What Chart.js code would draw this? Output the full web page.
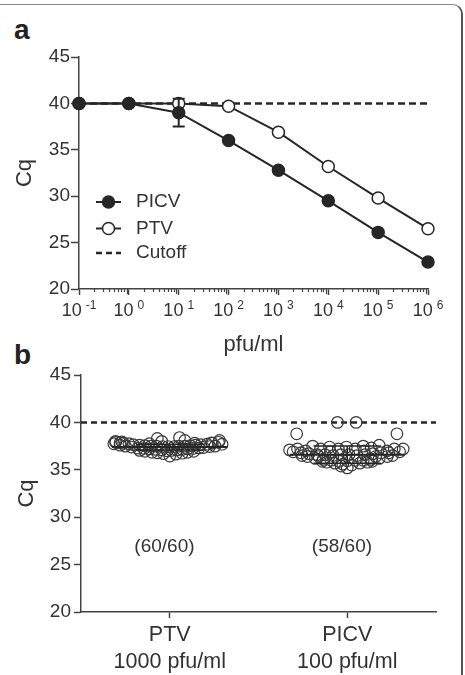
<!DOCTYPE html>
<html>
<head>
<meta charset="utf-8">
<script src="https://cdn.jsdelivr.net/npm/chart.js@4.4.1/dist/chart.umd.min.js"></script>
<style>
  body { margin: 0; background: #fff; }
  #wrap { position: relative; width: 465px; height: 675px; overflow: hidden; font-family: "Liberation Sans", Arial, sans-serif; }
  .frame { position: absolute; left: -10px; top: 4px; width: 473px; height: 720px; box-sizing: border-box;
           border-top: 1.5px solid #8a8a8a; border-right: 2px solid #555; border-top-right-radius: 10px; }
  .letter { position: absolute; font-weight: bold; font-size: 28px; line-height: 28px; color: #222; }
  canvas { position: absolute; left: 0; }
</style>
</head>
<body>
<div id="wrap">
  <div class="frame"></div>
  <div class="letter" style="left:14px; top:16px;">a</div>
  <div class="letter" style="left:14px; top:341px;">b</div>
  <canvas id="chartA" width="465" height="360" style="top:0px;"></canvas>
  <canvas id="chartB" width="465" height="335" style="top:340px;"></canvas>
</div>

<script>
// ---- panel a: dilution series ----
const doses = [0.1, 1, 10, 100, 1000, 10000, 100000, 1000000];
const doseTickBase = '10';
const doseTickExponents = ['-1', '0', '1', '2', '3', '4', '5', '6'];
const picvCq = [40, 40, 39.0, 36.0, 32.8, 29.5, 26.1, 22.9];
const picvSd = [0, 0, 1.5, 0, 0, 0, 0, 0];
const ptvCq = [40, 40, 40.0, 39.7, 36.9, 33.2, 29.8, 26.5];
const cutoffCq = 40;

// ---- panel b: replicate detection ----
const groupNames = ['PTV', 'PICV'];
const groupDoses = ['1000 pfu/ml', '100 pfu/ml'];
const groupDetected = ['(60/60)', '(58/60)'];
const groupMeans = [37.4, 36.6];
const groupSds = [0.3, 0.9];

const ptvJitter = [-0.61, -0.56, -0.52, -0.46, -0.41, -0.34, -0.28, -0.21, -0.15, -0.08,
                   -0.02, 0.05, 0.10, 0.17, 0.23, 0.29, 0.35, 0.42, 0.48, 0.55,
                   -0.56, -0.50, -0.43, -0.36, -0.29, -0.23, -0.16, -0.09, -0.03, 0.02,
                   0.08, 0.14, 0.20, 0.26, 0.33, 0.38, 0.45, 0.51, -0.63, 0.59,
                   -0.28, -0.20, -0.14, -0.07, 0.00, 0.07, 0.14, 0.20, 0.27, -0.34,
                   -0.14, -0.09, 0.11, 0.17, -0.61, -0.54, 0.56, 0.47, -0.23, 0.28];
const ptvValues = [37.9, 37.85, 37.8, 37.75, 37.65, 37.6, 37.55, 37.5, 37.5, 37.45,
                   37.45, 37.45, 37.5, 37.5, 37.55, 37.6, 37.65, 37.7, 37.8, 37.9,
                   37.6, 37.5, 37.4, 37.3, 37.25, 37.2, 37.15, 37.1, 37.0, 37.05,
                   37.1, 37.15, 37.2, 37.25, 37.3, 37.35, 37.45, 37.5, 37.75, 37.7,
                   36.95, 36.85, 36.8, 36.7, 36.45, 36.65, 36.75, 36.85, 36.95, 37.05,
                   38.3, 38.0, 38.4, 38.1, 38.0, 37.95, 38.1, 37.85, 37.75, 37.8];

const picvJitter = [-0.11, 0.10, -0.57, 0.56,
                    -0.56, -0.39, -0.20, -0.01, 0.18, 0.36, 0.53, -0.47, 0.45, -0.30, 0.27, 0.09, -0.10,
                    -0.61, -0.52, -0.43, -0.34, -0.25, -0.16, -0.07, 0.02, 0.11, 0.20, 0.29, 0.38, 0.47, 0.59, -0.19, 0.19,
                    -0.45, -0.36, -0.27, -0.18, -0.09, 0.00, 0.09, 0.18, 0.27, 0.36, 0.45, -0.32, 0.32,
                    -0.23, -0.14, -0.05, 0.05, 0.14, 0.23, -0.28, 0.28,
                    0.00, -0.07, -0.65, 0.63, 0.51, -0.51];
const picvValues = [40, 40, 38.8, 38.8,
                    37.2, 37.5, 37.4, 37.4, 37.5, 37.6, 37.2, 37.0, 37.0, 37.2, 37.3, 37.2, 37.2,
                    36.9, 36.8, 36.7, 36.6, 36.6, 36.5, 36.6, 36.6, 36.5, 36.6, 36.7, 36.8, 36.8, 36.9, 36.9, 37.0,
                    36.4, 36.2, 36.1, 36.0, 35.9, 35.95, 36.0, 36.0, 36.1, 36.2, 36.4, 36.4, 36.4,
                    35.8, 35.7, 35.6, 35.5, 35.7, 35.8, 35.9, 35.9,
                    35.2, 35.4, 37.1, 37.2, 36.5, 36.5];

const INK = '#262626';
const TEXT = '#333';
const FONT = '"Liberation Sans", Arial, sans-serif';
Chart.defaults.font.family = FONT;
Chart.defaults.color = TEXT;

// error bar, minor log ticks and 10^n tick labels
const panelAExtras = {
  id: 'panelAExtras',
  afterDatasetsDraw(chart) {
    const {ctx} = chart;
    const xs = chart.scales.x, ys = chart.scales.y;
    ctx.save();
    ctx.strokeStyle = INK;
    ctx.lineWidth = 2;
    picvSd.forEach((sd, i) => {
      if (!sd) return;
      const px = xs.getPixelForValue(doses[i]);
      const top = ys.getPixelForValue(picvCq[i] + sd);
      const bot = ys.getPixelForValue(picvCq[i] - sd);
      ctx.beginPath();
      ctx.moveTo(px, top); ctx.lineTo(px, bot);
      ctx.moveTo(px - 6, top); ctx.lineTo(px + 6, top);
      ctx.moveTo(px - 6, bot); ctx.lineTo(px + 6, bot);
      ctx.stroke();
    });
    ctx.restore();
  },
  afterDraw(chart) {
    const {ctx, chartArea} = chart;
    const xs = chart.scales.x;
    ctx.save();
    ctx.strokeStyle = '#444';
    ctx.lineWidth = 1.2;
    ctx.beginPath();
    for (let d = 0; d < doses.length - 1; d++) {
      for (let m = 2; m <= 9; m++) {
        const px = Math.round(xs.getPixelForValue(doses[d] * m)) + 0.5;
        ctx.moveTo(px, chartArea.bottom);
        ctx.lineTo(px, chartArea.bottom + (m === 9 ? 5 : 3));
      }
    }
    ctx.stroke();

    // tick labels: "10" with a raised exponent
    ctx.fillStyle = TEXT;
    ctx.textBaseline = 'alphabetic';
    ctx.textAlign = 'left';
    const baseFont = '18px ' + FONT, expFont = '12px ' + FONT;
    doses.forEach((d, i) => {
      ctx.font = baseFont;
      const wb = ctx.measureText(doseTickBase).width;
      ctx.font = expFont;
      const we = ctx.measureText(doseTickExponents[i]).width;
      const gap = 4;
      const x0 = xs.getPixelForValue(d) - (wb + gap + we) / 2;
      ctx.font = baseFont;
      ctx.fillText(doseTickBase, x0, chartArea.bottom + 27);
      ctx.font = expFont;
      ctx.fillText(doseTickExponents[i], x0 + wb + gap, chartArea.bottom + 20);
    });
    ctx.restore();
  }
};

const insideLegend = {
  id: 'insideLegend',
  afterDraw(chart) {
    const {ctx, chartArea} = chart;
    const x0 = chartArea.left + 17, x1 = x0 + 25, tx = chartArea.left + 57;
    const rows = [145, 171.5, 196];
    ctx.save();
    ctx.font = '19px ' + FONT;
    ctx.textBaseline = 'middle';
    chart.data.datasets.forEach((ds, i) => {
      const y = chartArea.top + rows[i];
      ctx.strokeStyle = ds.borderColor;
      ctx.lineWidth = ds.borderWidth;
      ctx.setLineDash(ds.borderDash ? [6, 4] : []);
      ctx.beginPath(); ctx.moveTo(x0, y); ctx.lineTo(x1, y); ctx.stroke();
      ctx.setLineDash([]);
      if (ds.pointRadius) {
        ctx.beginPath();
        ctx.arc((x0 + x1) / 2, y, ds.pointRadius, 0, Math.PI * 2);
        ctx.fillStyle = ds.pointBackgroundColor;
        ctx.fill();
        ctx.lineWidth = ds.pointBorderWidth;
        ctx.strokeStyle = ds.pointBorderColor;
        ctx.stroke();
      }
      ctx.fillStyle = TEXT;
      ctx.fillText(ds.label, tx, y);
    });
    ctx.restore();
  }
};

new Chart(document.getElementById('chartA'), {
  type: 'line',
  data: {
    datasets: [
      {
        label: 'PICV',
        data: doses.map((d, i) => ({x: d, y: picvCq[i]})),
        borderColor: INK, borderWidth: 2,
        pointRadius: 6, pointBackgroundColor: INK, pointBorderColor: INK, pointBorderWidth: 1.5,
        clip: false
      },
      {
        label: 'PTV',
        data: doses.map((d, i) => ({x: d, y: ptvCq[i]})),
        borderColor: INK, borderWidth: 2,
        pointRadius: 6, pointBackgroundColor: '#fff', pointBorderColor: INK, pointBorderWidth: 1.5,
        clip: false
      },
      {
        label: 'Cutoff',
        data: [{x: doses[0], y: cutoffCq}, {x: doses[doses.length - 1], y: cutoffCq}],
        borderColor: INK, borderWidth: 2.5, borderDash: [7, 4],
        pointRadius: 0,
        clip: false
      }
    ]
  },
  options: {
    responsive: false,
    animation: false,
    layout: {padding: {left: 0, right: 37, top: 57, bottom: 0}},
    plugins: {legend: {display: false}, tooltip: {enabled: false}},
    scales: {
      x: {
        type: 'logarithmic',
        min: doses[0], max: doses[doses.length - 1],
        afterBuildTicks: s => { s.ticks = doses.map(v => ({value: v, major: true})); },
        afterFit: s => { s.height = 71; },
        border: {color: '#444', width: 1.5},
        grid: {drawOnChartArea: false, color: '#444', tickLength: 6, tickWidth: 1.5},
        ticks: {display: false},
        title: {display: true, text: 'pfu/ml', font: {size: 22}, padding: {top: 0, bottom: 1.8}}
      },
      y: {
        min: 20, max: 45,
        afterFit: s => { s.width = 79; },
        border: {color: '#444', width: 1.5},
        grid: {drawOnChartArea: false, color: '#444', tickLength: 8, tickWidth: 1.5},
        ticks: {stepSize: 5, padding: 1, font: {size: 19}},
        title: {display: true, text: 'Cq', font: {size: 22}, padding: {top: 11.8, bottom: 0}}
      }
    }
  },
  plugins: [panelAExtras, insideLegend]
});

// ---- panel b ----
const panelBExtras = {
  id: 'panelBExtras',
  afterDatasetsDraw(chart) {
    const {ctx} = chart;
    const xs = chart.scales.x, ys = chart.scales.y;
    ctx.save();
    ctx.strokeStyle = INK;
    groupMeans.forEach((m, i) => {
      const c = 1 + i * 2;
      const ym = ys.getPixelForValue(m);
      ctx.lineWidth = 2;
      ctx.beginPath();
      ctx.moveTo(xs.getPixelForValue(c - 0.65), ym);
      ctx.lineTo(xs.getPixelForValue(c + 0.65), ym);
      ctx.stroke();
      const top = ys.getPixelForValue(m + groupSds[i]);
      const bot = ys.getPixelForValue(m - groupSds[i]);
      const px = xs.getPixelForValue(c);
      ctx.lineWidth = 1.5;
      ctx.beginPath();
      ctx.moveTo(px, top); ctx.lineTo(px, bot);
      ctx.moveTo(xs.getPixelForValue(c - 0.38), top); ctx.lineTo(xs.getPixelForValue(c + 0.38), top);
      ctx.moveTo(xs.getPixelForValue(c - 0.38), bot); ctx.lineTo(xs.getPixelForValue(c + 0.38), bot);
      ctx.stroke();
    });
    ctx.font = '19px ' + FONT;
    ctx.fillStyle = TEXT;
    ctx.textAlign = 'center';
    ctx.textBaseline = 'middle';
    groupDetected.forEach((t, i) => {
      ctx.fillText(t, xs.getPixelForValue(1 + i * 2 - 0.06), ys.getPixelForValue(26.9));
    });
    ctx.restore();
  }
};

const dotStyle = {
  pointRadius: 5.8, pointBorderWidth: 1.2,
  pointBorderColor: '#3a3a3a', pointBackgroundColor: 'rgba(255,255,255,0)',
  showLine: false, clip: false
};

new Chart(document.getElementById('chartB'), {
  type: 'scatter',
  data: {
    datasets: [
      Object.assign({label: 'PTV', data: ptvValues.map((v, i) => ({x: 1 + ptvJitter[i], y: v}))}, dotStyle),
      Object.assign({label: 'PICV', data: picvValues.map((v, i) => ({x: 3 + picvJitter[i], y: v}))}, dotStyle),
      {
        type: 'line', label: 'Cutoff',
        data: [{x: 0, y: cutoffCq}, {x: 4, y: cutoffCq}],
        borderColor: INK, borderWidth: 2.5, borderDash: [6, 4],
        pointRadius: 0, clip: false
      }
    ]
  },
  options: {
    responsive: false,
    animation: false,
    layout: {padding: {left: 0, right: 29, top: 35, bottom: 0}},
    plugins: {legend: {display: false}, tooltip: {enabled: false}},
    scales: {
      x: {
        type: 'linear', min: 0, max: 4,
        afterBuildTicks: s => { s.ticks = [{value: 1}, {value: 3}]; },
        afterFit: s => { s.height = 63; },
        border: {color: '#444', width: 1.5},
        grid: {drawOnChartArea: false, color: '#444', tickLength: 6, tickWidth: 1.5},
        ticks: {
          autoSkip: false, maxRotation: 0, padding: 3.6,
          font: {size: 21.5, lineHeight: 1.24},
          callback: (v) => { const i = Math.round((v - 1) / 2); return [groupNames[i], groupDoses[i]]; }
        }
      },
      y: {
        min: 20, max: 45,
        afterFit: s => { s.width = 81; },
        border: {color: '#444', width: 1.5},
        grid: {drawOnChartArea: false, color: '#444', tickLength: 7, tickWidth: 1.5},
        ticks: {stepSize: 5, padding: 3, font: {size: 19}},
        title: {display: true, text: 'Cq', font: {size: 22}, padding: {top: 13.8, bottom: 0}}
      }
    }
  },
  plugins: [panelBExtras]
});
</script>
</body>
</html>
